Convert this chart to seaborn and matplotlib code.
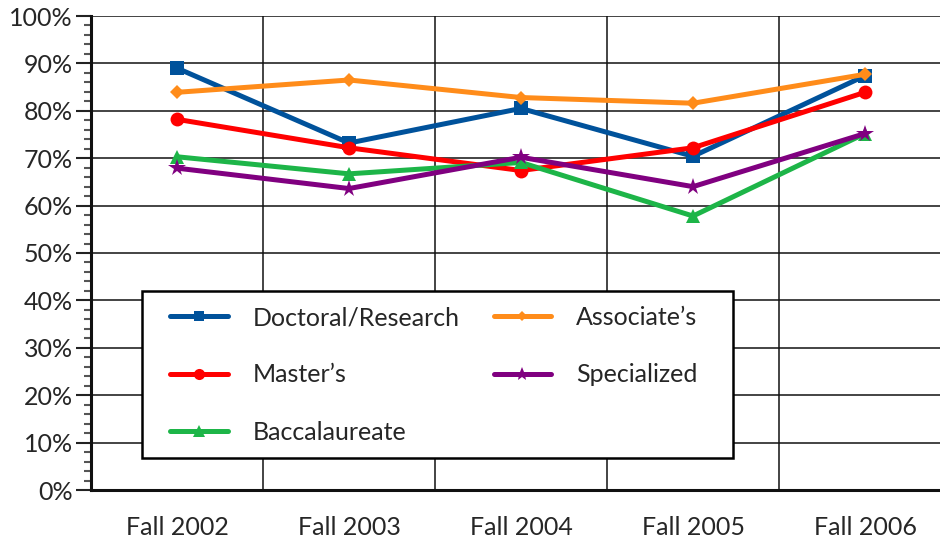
import matplotlib
matplotlib.use("Agg")
import matplotlib.pyplot as plt
from matplotlib.patches import Rectangle
from matplotlib.ticker import FixedLocator, MultipleLocator, PercentFormatter
import pandas as pd
import seaborn as sns

terms = ["Fall 2002", "Fall 2003", "Fall 2004", "Fall 2005", "Fall 2006"]
doctoral = [89.0, 73.2, 80.5, 70.4, 87.4]
masters = [78.2, 72.2, 67.4, 72.2, 83.9]
baccalaureate = [70.3, 66.7, 69.1, 57.8, 75.2]
associates = [83.9, 86.5, 82.8, 81.6, 87.7]
specialized = [67.9, 63.6, 70.2, 64.0, 75.2]

series_names = ["Doctoral/Research", "Master\u2019s", "Baccalaureate",
                "Associate\u2019s", "Specialized"]
series_values = [doctoral, masters, baccalaureate, associates, specialized]

colors = {"Doctoral/Research": "#00529B", "Master\u2019s": "#FF0000",
          "Baccalaureate": "#1DB548", "Associate\u2019s": "#FF8C1A",
          "Specialized": "#800080"}
markers = {"Doctoral/Research": "s", "Master\u2019s": "o", "Baccalaureate": "^",
           "Associate\u2019s": "D", "Specialized": "*"}
sizes = {"Doctoral/Research": 9.5, "Master\u2019s": 10, "Baccalaureate": 10,
         "Associate\u2019s": 7, "Specialized": 13}

rows = []
for name, vals in zip(series_names, series_values):
    for i, v in enumerate(vals):
        rows.append({"term": i, "value": v, "series": name})
df = pd.DataFrame(rows)

sns.set_style("white")
plt.rcParams["font.family"] = ["Lato", "DejaVu Sans"]

fig = plt.figure(figsize=(9.4, 5.41), dpi=100)
ax = fig.add_axes([91 / 940, 51 / 541, 860 / 940, 474 / 541])

for name in series_names:
    sub = df[df["series"] == name]
    sns.lineplot(data=sub, x="term", y="value", color=colors[name],
                 marker=markers[name], markersize=sizes[name],
                 markeredgewidth=0, linewidth=3.6, label=name, ax=ax)

ax.set_xlim(-0.5, 4.5)
ax.set_ylim(0, 100)
ax.set_xlabel("")
ax.set_ylabel("")

ax.set_xticks(range(len(terms)))
ax.set_xticklabels(terms, fontsize=18)
ax.xaxis.set_minor_locator(FixedLocator([i + 0.5 for i in range(-1, len(terms))]))
ax.tick_params(axis="x", which="major", length=0, pad=19)
ax.tick_params(axis="x", which="minor", length=11, width=1.2, color="#222222")

ax.yaxis.set_major_locator(MultipleLocator(10))
ax.yaxis.set_minor_locator(MultipleLocator(2))
ax.yaxis.set_major_formatter(PercentFormatter(decimals=0))
ax.tick_params(axis="y", which="major", length=11, width=1.5, color="#222222",
               labelsize=18, pad=2, left=True)
ax.tick_params(axis="y", which="minor", length=5, width=1.5, color="#555555",
               left=True)

ax.grid(True, which="major", axis="y", color="#111111", linewidth=1.1)
ax.grid(True, which="minor", axis="x", color="#111111", linewidth=1.1)
ax.set_axisbelow(True)

for side in ["top", "right"]:
    ax.spines[side].set_visible(False)
for side in ["left", "bottom"]:
    ax.spines[side].set_color("#111111")
    ax.spines[side].set_linewidth(2.2)

# legend frame drawn separately so the padding can differ per side
box = Rectangle((0.0593, 0.0675), 0.687, 0.3525, transform=ax.transAxes,
                facecolor="white", edgecolor="black", linewidth=1.8,
                zorder=4.9, clip_on=False)
ax.add_patch(box)

handles, labels = ax.get_legend_handles_labels()
leg = ax.legend(handles, labels, ncol=2, loc="upper left",
                bbox_to_anchor=(0.0919, 0.388), fontsize=18, frameon=False,
                handlelength=2.3, handletextpad=1.0, labelspacing=1.37,
                columnspacing=1.36, borderpad=0, borderaxespad=0)
for h in leg.get_lines():
    h.set_markersize(h.get_markersize() * 0.8)

fig.savefig("out.png", dpi=100)
